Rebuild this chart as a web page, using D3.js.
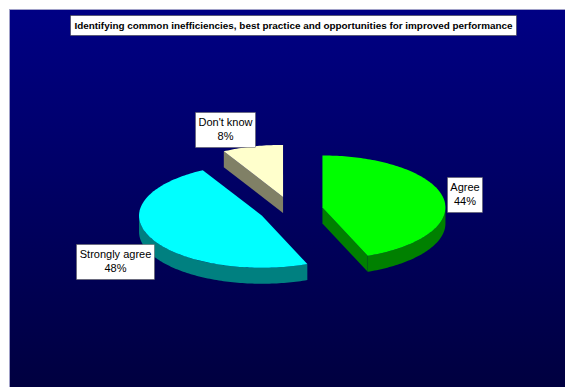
<!DOCTYPE html>
<html>
<head>
<meta charset="utf-8">
<script src="https://cdn.jsdelivr.net/npm/d3@7"></script>
<style>
  body { margin: 0; background: #fff; }
  svg { display: block; }
</style>
</head>
<body>
<div class="chart"></div>
<script>
const categories = ["Agree", "Strongly agree", "Don't know"]
const values = [44, 48, 8]
const labels = ["44%", "48%", "8%"]
const topColors = ["#00ff00", "#00ffff", "#ffffcc"]
const sideColors = ["#008000", "#008080", "#808066"]
const title = "Identifying common inefficiencies, best practice and opportunities for improved performance"

const width = 565, height = 387

const svg = d3.select(".chart")
  .append("svg")
  .attr("width", width)
  .attr("height", height)

const grad = svg.append("defs").append("linearGradient")
  .attr("id", "bg").attr("x1", 0).attr("y1", 0).attr("x2", 0).attr("y2", 1)
grad.append("stop").attr("offset", "0%").attr("stop-color", "#000084")
grad.append("stop").attr("offset", "100%").attr("stop-color", "#00003e")

svg.append("rect")
  .attr("x", 9.5).attr("y", 9.5)
  .attr("width", width).attr("height", height)
  .attr("fill", "url(#bg)")
  .attr("stroke", "#a0a0c8")
  .attr("stroke-width", 1)

// title box
const tg = svg.append("g")
tg.append("rect")
  .attr("x", 70.5).attr("y", 15.5)
  .attr("width", 446).attr("height", 20)
  .attr("fill", "#fff").attr("stroke", "#333").attr("stroke-width", 0.5)
tg.append("text")
  .attr("x", 293.5).attr("y", 29)
  .attr("text-anchor", "middle")
  .attr("textLength", 438)
  .attr("lengthAdjust", "spacingAndGlyphs")
  .style("font-family", "Liberation Sans, Arial, sans-serif")
  .style("font-size", "9px")
  .style("font-weight", "bold")
  .text(title)

// 3d pie geometry
const cx = 291, cy = 210
const rx = 123, ry = 52, depth = 16, explode = 32
const k = ry / rx

const pie = d3.pie().sort(null).value(d => d.value)
const arcs = pie(categories.map((c, i) => ({ name: c, value: values[i], i })))

const line = d3.line()

function rim(c, a, dy = 0) {
  return [c[0] + rx * Math.sin(a), c[1] - ry * Math.cos(a) + dy]
}
function arcPts(c, a0, a1, dy = 0) {
  const n = Math.max(2, Math.ceil((a1 - a0) / 0.02))
  return d3.range(n + 1).map(j => rim(c, a0 + (a1 - a0) * j / n, dy))
}

arcs.forEach(d => {
  d.mid = (d.startAngle + d.endAngle) / 2
  d.c = [cx + explode * Math.sin(d.mid), cy - explode * k * Math.cos(d.mid)]
})

// draw back slices first
const order = arcs.slice().sort((a, b) => a.c[1] - b.c[1])

const slices = svg.selectAll("g.slice")
  .data(order)
  .enter()
  .append("g")
  .attr("class", "slice")

slices.each(function(d) {
  const g = d3.select(this)
  const c = d.c
  const a0 = d.startAngle, a1 = d.endAngle
  const side = sideColors[d.data.i]

  // outer side wall, front half only
  const s0 = Math.max(a0, Math.PI / 2), s1 = Math.min(a1, 3 * Math.PI / 2)
  if (s1 > s0) {
    const pts = arcPts(c, s0, s1).concat(arcPts(c, s0, s1, depth).reverse())
    g.append("path").attr("d", line(pts) + "Z").attr("fill", side)
  }
  // cut faces
  const cut = a => {
    const r = rim(c, a)
    const pts = [c, r, [r[0], r[1] + depth], [c[0], c[1] + depth]]
    g.append("path").attr("d", line(pts) + "Z").attr("fill", side)
  }
  if (Math.sin(a0) < -1e-6) cut(a0)
  if (Math.sin(a1) > 1e-6) cut(a1)

  // top face
  const top = [c].concat(arcPts(c, a0, a1))
  g.append("path").attr("d", line(top) + "Z").attr("fill", topColors[d.data.i])
})

// labels
arcs.forEach(d => {
  const a = d.mid
  const r = rim(d.c, a, Math.cos(a) < 0 ? depth : 0)
  const g = svg.append("g")
  const t = g.append("text")
    .style("font-family", "Liberation Sans, Arial, sans-serif")
    .style("font-size", "11px")
    .attr("text-anchor", "middle")
  t.append("tspan").attr("x", 0).attr("dy", 0).text(d.data.name)
  t.append("tspan").attr("x", 0).attr("dy", 14).text(labels[d.data.i])
  const tw = Math.max(...t.selectAll("tspan").nodes().map(n => n.getComputedTextLength()))
  const bw = Math.round(tw + 6), bh = 35
  const left = Math.sin(a) > 0 ? r[0] + 4 : r[0] + 3 - bw
  const top = Math.round(r[1] - Math.cos(a) * bh / 2 - bh / 2)
  g.insert("rect", "text")
    .attr("x", Math.round(left) + 0.5).attr("y", top + 0.5)
    .attr("width", bw).attr("height", bh)
    .attr("fill", "#fff").attr("stroke", "#555").attr("stroke-width", 0.5)
  t.attr("transform", `translate(${Math.round(left) + bw / 2 + 0.5},${top + 14})`)
})
</script>
</body>
</html>
